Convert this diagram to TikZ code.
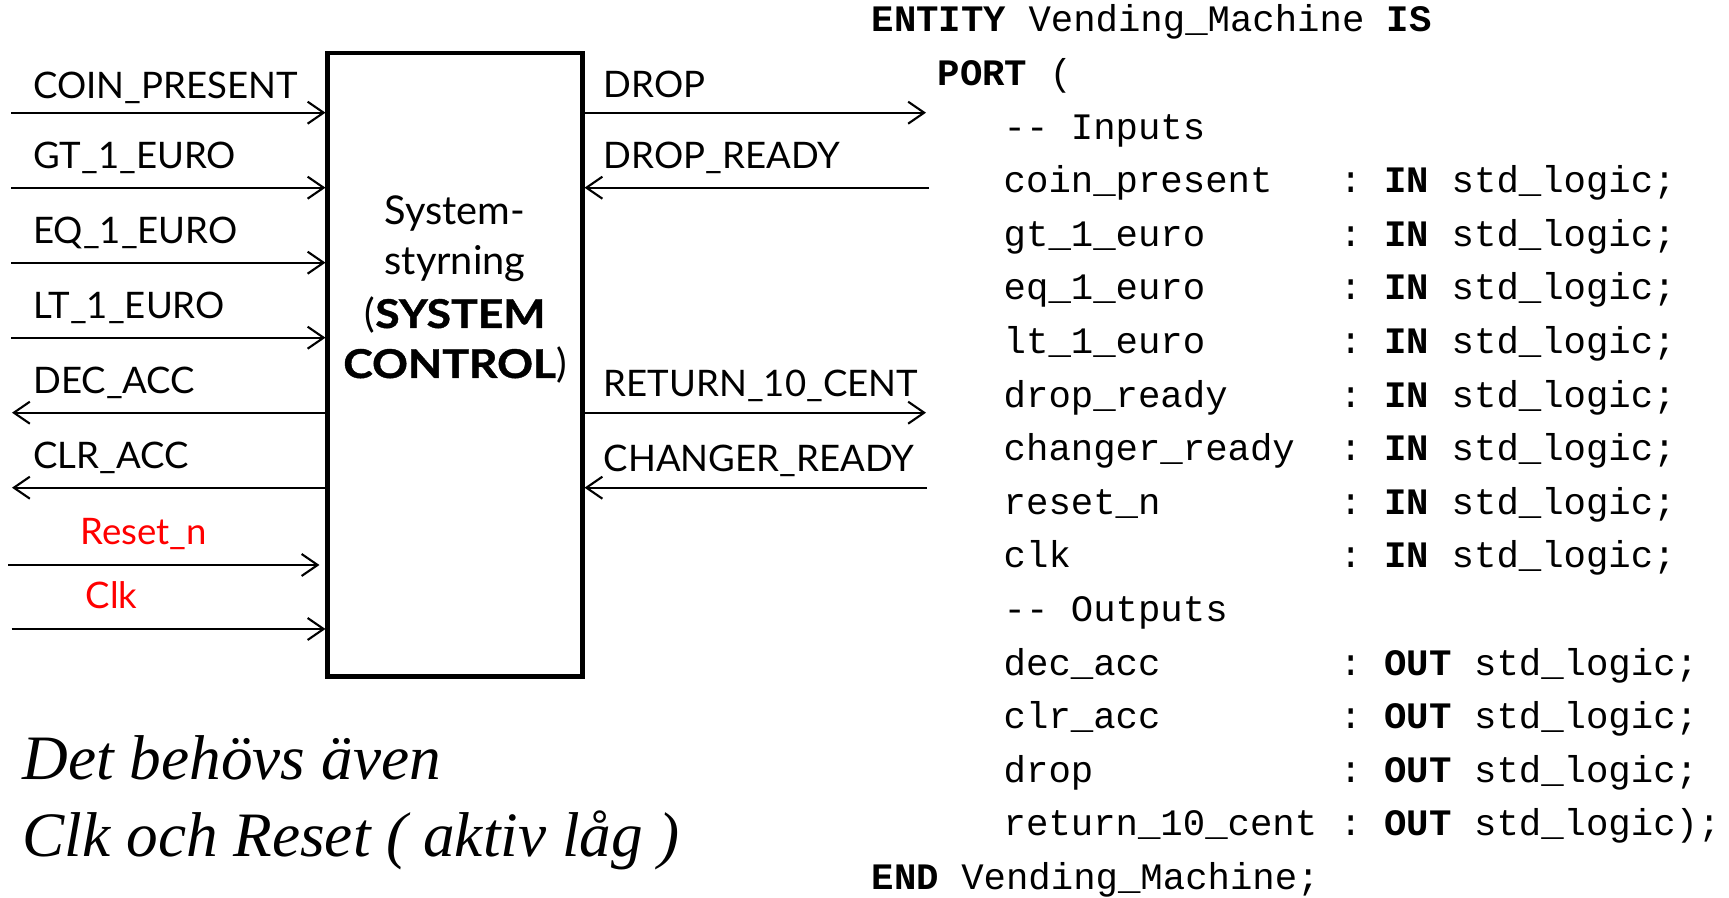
\documentclass[tikz,border=0pt]{standalone}
\usepackage{fontspec}
\setsansfont{Lato}
\newfontfamily\boxfont{Lato}[BoldFeatures={FakeStretch=1.12, FakeBold=1}]
\newfontfamily\codefont{Liberation Mono}
\newfontfamily\notefont{Liberation Serif}
\usetikzlibrary{arrows.meta}

\begin{document}
\begin{tikzpicture}[
  lbl/.style={font=\sffamily\fontsize{10.4}{12}\selectfont, anchor=base west,
    inner sep=0pt},
  redlbl/.style={lbl, text=red},
  boxtxt/.style={font=\boxfont\fontsize{11.3}{14}\selectfont, anchor=base,
    inner sep=0pt},
  ctrlbox/.style={draw, line width=1.15pt, minimum width=2.55cm,
    minimum height=6.235cm, inner sep=0pt},
  sig/.style={line width=0.6pt, -{Straight Barb[length=1.6mm, width=2.2mm]}},
  code/.style={font=\codefont\frenchspacing\fontsize{10.62}{12}\selectfont,
    anchor=base west, inner sep=0pt},
  note/.style={font=\notefont\itshape\fontsize{18}{21}\selectfont,
    anchor=base west, inner sep=0pt},
]
\useasboundingbox (0,0) rectangle (17.29,8.98);

% Control block
\node[ctrlbox] (ctrl) at (4.55, 5.3325) {};
\node[boxtxt] (ctrl-t1) at (4.55, 6.73) {System-};
\node[boxtxt] (ctrl-t2) at (4.55, 6.23) {styrning};
\node[boxtxt] (ctrl-t3) at (4.55, 5.70) {(\textbf{SYSTEM}};
\node[boxtxt] (ctrl-t4) at (4.55, 5.20) {\textbf{CONTROL})};

% Left side: inputs
\coordinate (coin-src) at (0.11, 7.853);
\node[lbl] (coin-l) at (0.325, 7.997) {COIN\_PRESENT};
\draw[sig] (coin-src) -- (coin-src -| ctrl.west);

\coordinate (gt-src) at (0.11, 7.103);
\node[lbl] (gt-l) at (0.325, 7.297) {GT\_1\_EURO};
\draw[sig] (gt-src) -- (gt-src -| ctrl.west);

\coordinate (eq-src) at (0.11, 6.353);
\node[lbl] (eq-l) at (0.325, 6.547) {EQ\_1\_EURO};
\draw[sig] (eq-src) -- (eq-src -| ctrl.west);

\coordinate (lt-src) at (0.11, 5.603);
\node[lbl] (lt-l) at (0.325, 5.797) {LT\_1\_EURO};
\draw[sig] (lt-src) -- (lt-src -| ctrl.west);

% Left side: outputs
\coordinate (dec-dst) at (0.12, 4.853);
\node[lbl] (dec-l) at (0.325, 5.047) {DEC\_ACC};
\draw[sig] (dec-dst -| ctrl.west) -- (dec-dst);

\coordinate (clr-dst) at (0.12, 4.103);
\node[lbl] (clr-l) at (0.325, 4.297) {CLR\_ACC};
\draw[sig] (clr-dst -| ctrl.west) -- (clr-dst);

% Reset and clock
\coordinate (rst-src) at (0.084, 3.33);
\node[redlbl] (rst-l) at (0.80, 3.53) {Reset\_n};
\draw[sig, shorten >=0.6mm] (rst-src) -- (rst-src -| ctrl.west);

\coordinate (clk-src) at (0.115, 2.69);
\node[redlbl] (clk-l) at (0.85, 2.897) {Clk};
\draw[sig] (clk-src) -- (clk-src -| ctrl.west);

% Right side
\coordinate (drop-dst) at (9.26, 7.853);
\node[lbl] (drop-l) at (6.03, 8.0) {DROP};
\draw[sig] (drop-dst -| ctrl.east) -- (drop-dst);

\coordinate (dready-src) at (9.29, 7.103);
\node[lbl] (dready-l) at (6.03, 7.297) {DROP\_READY};
\draw[sig] (dready-src) -- (dready-src -| ctrl.east);

\coordinate (ret-dst) at (9.26, 4.853);
\node[lbl] (ret-l) at (6.03, 5.013) {RETURN\_10\_CENT};
\draw[sig] (ret-dst -| ctrl.east) -- (ret-dst);

\coordinate (cready-src) at (9.27, 4.103);
\node[lbl] (cready-l) at (6.03, 4.263) {CHANGER\_READY};
\draw[sig] (cready-src) -- (cready-src -| ctrl.east);

% Note
\node[note] (note1) at (0.22, 1.18) {Det behövs även};
\node[note] (note2) at (0.22, 0.41) {Clk och Reset ( aktiv låg )};

% VHDL entity
\node[code] (ent) at (8.71, 8.66) {\textbf{ENTITY} Vending\_Machine \textbf{IS}};
\node[code] (port) at (9.37, 8.124) {\textbf{PORT} (};
\node[code] (in-hdr) at (10.03, 7.588) {-{}- Inputs};
\node[code] (v-coin) at (10.03, 7.052) {coin\_present};
\node[code] at (13.39, 7.052) {: \textbf{IN} std\_logic;};
\node[code] (v-gt) at (10.03, 6.516) {gt\_1\_euro};
\node[code] at (13.39, 6.516) {: \textbf{IN} std\_logic;};
\node[code] (v-eq) at (10.03, 5.98) {eq\_1\_euro};
\node[code] at (13.39, 5.98) {: \textbf{IN} std\_logic;};
\node[code] (v-lt) at (10.03, 5.444) {lt\_1\_euro};
\node[code] at (13.39, 5.444) {: \textbf{IN} std\_logic;};
\node[code] (v-dready) at (10.03, 4.908) {drop\_ready};
\node[code] at (13.39, 4.908) {: \textbf{IN} std\_logic;};
\node[code] (v-cready) at (10.03, 4.372) {changer\_ready};
\node[code] at (13.39, 4.372) {: \textbf{IN} std\_logic;};
\node[code] (v-rst) at (10.03, 3.836) {reset\_n};
\node[code] at (13.39, 3.836) {: \textbf{IN} std\_logic;};
\node[code] (v-clk) at (10.03, 3.30) {clk};
\node[code] at (13.39, 3.30) {: \textbf{IN} std\_logic;};
\node[code] (out-hdr) at (10.03, 2.764) {-{}- Outputs};
\node[code] (v-dec) at (10.03, 2.228) {dec\_acc};
\node[code] at (13.39, 2.228) {: \textbf{OUT} std\_logic;};
\node[code] (v-clr) at (10.03, 1.692) {clr\_acc};
\node[code] at (13.39, 1.692) {: \textbf{OUT} std\_logic;};
\node[code] (v-drop) at (10.03, 1.156) {drop};
\node[code] at (13.39, 1.156) {: \textbf{OUT} std\_logic;};
\node[code] (v-ret) at (10.03, 0.62) {return\_10\_cent};
\node[code] at (13.39, 0.62) {: \textbf{OUT} std\_logic);};
\node[code] (endl) at (8.71, 0.084) {\textbf{END} Vending\_Machine;};

\end{tikzpicture}
\end{document}
